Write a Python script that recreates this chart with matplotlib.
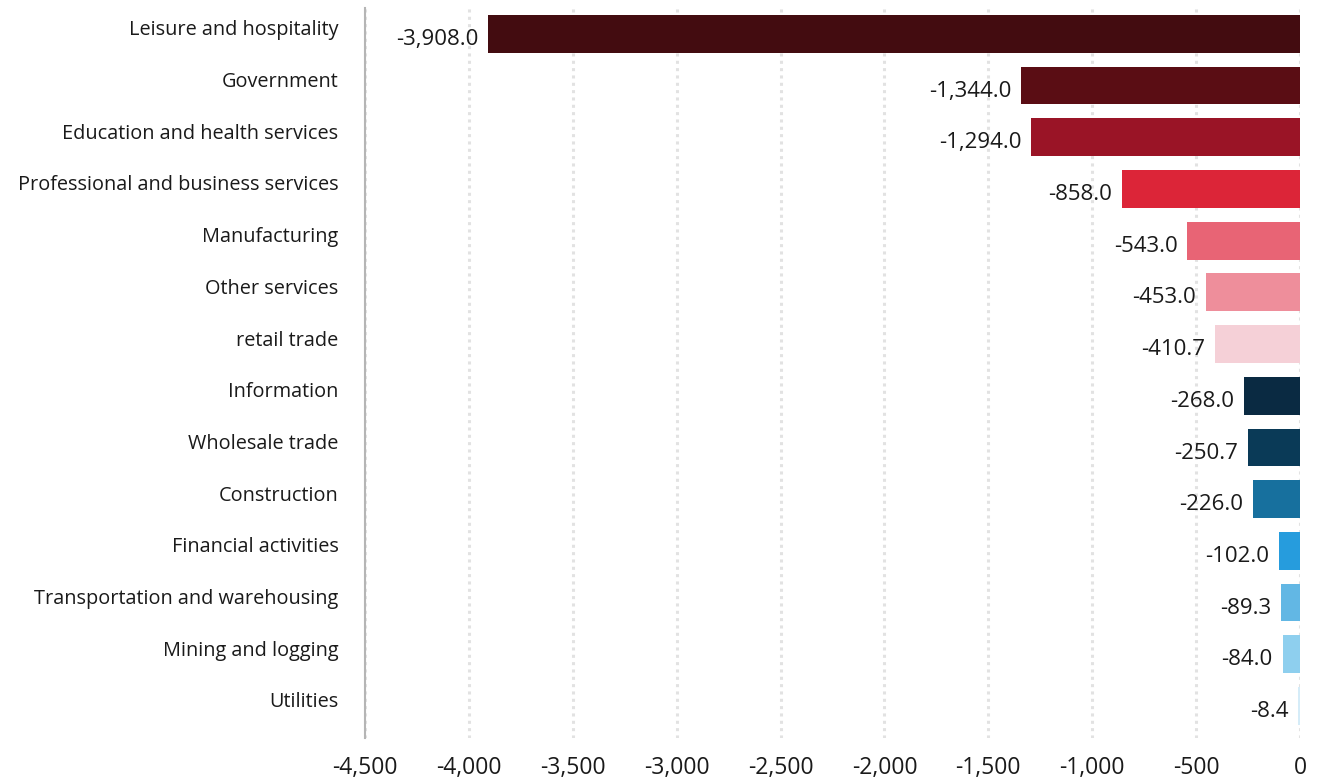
import matplotlib.pyplot as plt
import matplotlib.transforms as mtransforms
from matplotlib.ticker import FuncFormatter

categories = ["Leisure and hospitality", "Government", "Education and health services",
              "Professional and business services", "Manufacturing", "Other services",
              "retail trade", "Information", "Wholesale trade", "Construction",
              "Financial activities", "Transportation and warehousing",
              "Mining and logging", "Utilities"]
values = [-3908.0, -1344.0, -1294.0, -858.0, -543.0, -453.0, -410.7,
          -268.0, -250.7, -226.0, -102.0, -89.3, -84.0, -8.4]
colors = ["#430c10", "#5a0d14", "#9a1426", "#dc2538", "#e86475", "#ee8e9b",
          "#f5d0d7", "#0a2a42", "#0a3a57", "#17709e", "#269cdd", "#62b7e4",
          "#8ecfee", "#d5ecf8"]
xticks = [-4500, -4000, -3500, -3000, -2500, -2000, -1500, -1000, -500, 0]

plt.rcParams['font.family'] = ['Open Sans', 'DejaVu Sans']
txt = "#1a1a1a"

fig = plt.figure(figsize=(13.17, 7.82), dpi=100)
ax = fig.add_axes([365/1317, 1 - 738/782, 935/1317, 730/782])

y = list(range(len(categories)))
ax.barh(y, values, height=0.73, color=colors, zorder=2)

for yi, v in zip(y, values):
    ax.annotate(f"{v:,.1f}", (v, yi), xytext=(-7, -4), textcoords="offset points",
                ha="right", va="center", fontsize=16, color=txt)

ax.set_xlim(-4500, 0)
ax.set_ylim(13.62, -0.5)
ax.set_yticks(y)
ax.set_yticklabels(categories, fontsize=14.3, color=txt)
ax.set_xticks(xticks)
ax.xaxis.set_major_formatter(FuncFormatter(lambda v, p: f"{int(v):,}"))
ax.tick_params(axis="x", length=0, pad=13, labelsize=16.5, labelcolor=txt)
ax.tick_params(axis="y", length=0, pad=19)
off = mtransforms.ScaledTranslation(0, 6/100, fig.dpi_scale_trans)
for lab in ax.get_yticklabels():
    lab.set_transform(lab.get_transform() + off)

ax.grid(axis="x", color="#e2e2e2", linestyle=(0, (1, 1.4)), linewidth=2.2, zorder=0)
ax.set_axisbelow(True)
for s in ["top", "right", "bottom"]:
    ax.spines[s].set_visible(False)
ax.spines["left"].set_color("#b5b5b5")
ax.spines["left"].set_linewidth(1.5)

fig.savefig("out.png", dpi=100)
